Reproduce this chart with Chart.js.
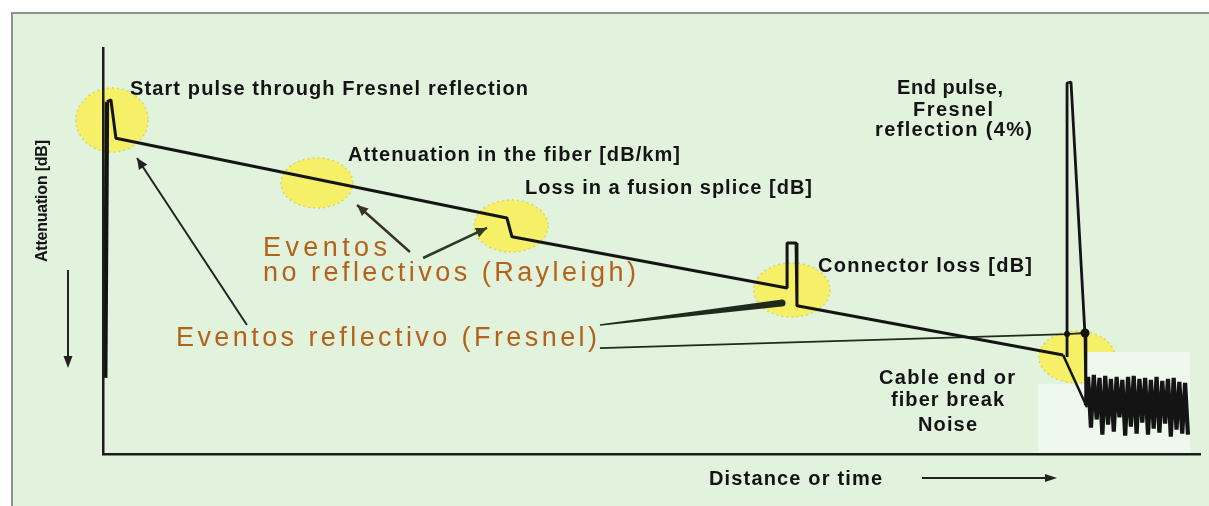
<!DOCTYPE html>
<html>
<head>
<meta charset="utf-8">
<script src="https://cdn.jsdelivr.net/npm/chart.js@4.4.1/dist/chart.umd.min.js"></script>
<style>
  html, body { margin: 0; padding: 0; background: #fff; overflow: hidden; }
  #wrap { width: 1209px; height: 506px; position: relative; }
</style>
</head>
<body>
<div id="wrap"><canvas id="otdr"></canvas></div>
<script>
// OTDR trace: distance (km) / level (dB)
const traceKm = [0.1, 0.18, 0.36, 0.59, 18.41, 18.64, 31.18, 31.18, 31.59, 31.63, 43.76];
const traceDb = [7.5, 34.7, 34.9, 31.1, 23.25, 21.4, 16.35, 20.8, 20.8, 14.6, 9.75];

// fall at the cable end
const cutKm = [43.76, 44.85];
const cutDb = [9.75, 4.6];

// end pulse (Fresnel 4%)
const endKm = [43.94, 43.94, 44.12, 44.76, 44.8];
const endDb = [9.55, 36.55, 36.65, 11.7, 4.8];

// noise after the break
const noiseKm = [44.9, 45.03, 45.16, 45.29, 45.42, 45.55, 45.68, 45.81, 45.94, 46.07, 46.2, 46.33,
  46.46, 46.59, 46.72, 46.85, 46.98, 47.11, 47.24, 47.37, 47.5, 47.63, 47.76, 47.89,
  48.02, 48.15, 48.28, 48.41, 48.54, 48.67, 48.8, 48.93, 49.06, 49.19, 49.32, 49.45];
const noiseDb = [7.6, 2.6, 7.8, 3.4, 7.5, 1.9, 7.7, 2.9, 7.4, 2.2, 7.6, 3.6,
  7.3, 1.8, 7.6, 2.7, 7.7, 2.0, 7.4, 3.1, 7.5, 1.9, 7.3, 2.5,
  7.6, 2.1, 7.2, 3.0, 7.4, 1.7, 7.5, 2.4, 7.1, 2.0, 7.0, 1.9];

// pointer from "Eventos reflectivo (Fresnel)" to the end pulse
const pointerKm = [22.65, 43.94, 44.76];
const pointerDb = [10.44, 11.82, 11.92];

const BG = '#e1f2dd';
const INK = '#141414';
const ORANGE = '#b4621a';
const FONT = '"Liberation Sans", Arial, sans-serif';

const pts = (xs, ys) => xs.map((v, i) => ({ x: v, y: ys[i] }));

// yellow event spots (centre in km/dB, radii in px)
const spots = [
  { km: 0.41, db: 32.9, rx: 36, ry: 32 },
  { km: 9.75, db: 26.7, rx: 36, ry: 25 },
  { km: 18.6, db: 22.46, rx: 37, ry: 26 },
  { km: 31.4, db: 16.16, rx: 38, ry: 27 },
  { km: 44.39, db: 9.56, rx: 38, ry: 26 }
];

// annotation arrows, km/dB
const arrows = [
  { from: [6.56, 12.71], to: [1.55, 29.16], color: '#222', w: 2 },
  { from: [13.99, 19.9], to: [11.58, 24.53], color: '#3a3222', w: 2.5 },
  { from: [14.59, 19.31], to: [17.5, 22.27], color: '#2f3a22', w: 2.5 }
];

const blackLabels = [
  ['Start pulse through Fresnel reflection', 130, 89, 398],
  ['Attenuation in the fiber [dB/km]', 348, 155, 332],
  ['Loss in a fusion splice [dB]', 525, 188, 287],
  ['Connector loss [dB]', 818, 266, 214],
  ['End pulse,', 897, 88, 106],
  ['Fresnel', 913, 110, 80],
  ['reflection (4%)', 875, 130, 157],
  ['Cable end or', 879, 378, 136],
  ['fiber break', 891, 400, 113],
  ['Noise', 918, 425, 59],
  ['Distance or time', 709, 479, 173]
];
const orangeLabels = [
  ['Eventos', 263, 249, 124],
  ['no reflectivos (Rayleigh)', 263, 274, 373],
  ['Eventos reflectivo (Fresnel)', 176, 339, 421]
];

function spaced(ctx, text, x, y, width) {
  const chars = [...text];
  const w = chars.reduce((s, c) => s + ctx.measureText(c).width, 0);
  const gap = chars.length > 1 ? (width - w) / (chars.length - 1) : 0;
  let cx = x;
  chars.forEach(c => { ctx.fillText(c, cx, y); cx += ctx.measureText(c).width + gap; });
}

function arrowHead(ctx, x1, y1, x2, y2, len, half) {
  const a = Math.atan2(y2 - y1, x2 - x1);
  ctx.beginPath();
  ctx.moveTo(x2, y2);
  ctx.lineTo(x2 - len * Math.cos(a) + half * Math.sin(a), y2 - len * Math.sin(a) - half * Math.cos(a));
  ctx.lineTo(x2 - len * Math.cos(a) - half * Math.sin(a), y2 - len * Math.sin(a) + half * Math.cos(a));
  ctx.closePath();
  ctx.fill();
}

const otdrDecor = {
  id: 'otdrDecor',
  beforeDraw(chart) {
    const { ctx, width, height, scales: { x, y } } = chart;
    ctx.save();
    ctx.fillStyle = '#fff';
    ctx.fillRect(0, 0, width, height);
    ctx.fillStyle = BG;
    ctx.fillRect(12, 13, width - 12, height - 13);
    ctx.strokeStyle = '#8d928b';
    ctx.lineWidth = 2;
    ctx.beginPath();
    ctx.moveTo(12, height); ctx.lineTo(12, 13); ctx.lineTo(width, 13);
    ctx.stroke();

    spots.forEach(s => {
      const cx = x.getPixelForValue(s.km), cy = y.getPixelForValue(s.db);
      ctx.beginPath();
      ctx.ellipse(cx, cy, s.rx, s.ry, 0, 0, Math.PI * 2);
      ctx.fillStyle = '#f6f068';
      ctx.fill();
      ctx.setLineDash([2, 3]);
      ctx.strokeStyle = '#dcd45c';
      ctx.lineWidth = 1.5;
      ctx.stroke();
      ctx.setLineDash([]);
    });

    // pasted, lighter patch under the noise
    ctx.fillStyle = '#eef8ec';
    ctx.fillRect(1087, 352, 103, 102);
    ctx.fillRect(1038, 384, 49, 70);
    ctx.restore();
  },
  afterDraw(chart) {
    const { ctx, scales: { x, y } } = chart;
    ctx.save();
    arrows.forEach(a => {
      const x1 = x.getPixelForValue(a.from[0]), y1 = y.getPixelForValue(a.from[1]);
      const x2 = x.getPixelForValue(a.to[0]), y2 = y.getPixelForValue(a.to[1]);
      ctx.strokeStyle = a.color; ctx.fillStyle = a.color; ctx.lineWidth = a.w;
      ctx.beginPath(); ctx.moveTo(x1, y1); ctx.lineTo(x2, y2); ctx.stroke();
      arrowHead(ctx, x1, y1, x2, y2, 11, 5);
    });

    // wedge pointer to the connector
    const wx1 = x.getPixelForValue(22.65), wy1 = y.getPixelForValue(12.71);
    const wx2 = x.getPixelForValue(30.95), wy2 = y.getPixelForValue(14.88);
    ctx.fillStyle = '#1e2a1c';
    ctx.beginPath();
    ctx.moveTo(wx1, wy1 - 0.8);
    ctx.lineTo(wx2, wy2 - 3.5);
    ctx.arc(wx2, wy2, 3.5, -Math.PI / 2, Math.PI / 2);
    ctx.lineTo(wx1, wy1 + 0.8);
    ctx.closePath();
    ctx.fill();

    // axis decorations
    ctx.strokeStyle = '#222'; ctx.fillStyle = '#222'; ctx.lineWidth = 2;
    ctx.beginPath(); ctx.moveTo(922, 478); ctx.lineTo(1050, 478); ctx.stroke();
    arrowHead(ctx, 922, 478, 1057, 478, 12, 4);
    ctx.beginPath(); ctx.moveTo(68, 270); ctx.lineTo(68, 360); ctx.stroke();
    arrowHead(ctx, 68, 270, 68, 368, 12, 4.5);

    ctx.textBaseline = 'middle';
    ctx.fillStyle = INK;
    ctx.font = 'bold 20px ' + FONT;
    blackLabels.forEach(([t, lx, ly, w]) => spaced(ctx, t, lx, ly, w));

    ctx.fillStyle = ORANGE;
    ctx.font = '27px ' + FONT;
    orangeLabels.forEach(([t, lx, ly, w]) => spaced(ctx, t, lx, ly, w));

    ctx.fillStyle = INK;
    ctx.font = 'bold 16px "Liberation Sans Narrow", ' + FONT;
    ctx.translate(43, 201);
    ctx.rotate(-Math.PI / 2);
    spaced(ctx, 'Attenuation [dB]', -61, 0, 122);
    ctx.restore();
  }
};

new Chart(document.getElementById('otdr'), {
  type: 'scatter',
  data: {
    datasets: [
      {
        data: pts(traceKm, traceDb), showLine: true, borderColor: INK, borderWidth: 3,
        pointRadius: 0, borderJoinStyle: 'bevel', clip: 8,
        segment: { borderWidth: c => c.p0DataIndex === 0 ? 4.5 : 3 }
      },
      { data: pts(cutKm, cutDb), showLine: true, borderColor: INK, borderWidth: 2.5, pointRadius: 0, clip: 8 },
      {
        data: pts(endKm.concat(noiseKm), endDb.concat(noiseDb)), showLine: true, borderColor: INK,
        borderWidth: 2.8, pointRadius: 0, borderJoinStyle: 'bevel', clip: 8,
        segment: { borderWidth: c => c.p0DataIndex >= endKm.length - 1 ? 4.2 : 2.8 }
      },
      {
        data: pts(pointerKm, pointerDb), showLine: true, borderColor: '#1e2a1c', borderWidth: 1.8,
        pointRadius: [0, 3, 4.5], pointBackgroundColor: '#111', pointBorderWidth: 0, clip: 8
      }
    ]
  },
  options: {
    responsive: true,
    maintainAspectRatio: false,
    animation: false,
    events: [],
    layout: { padding: { left: 103, right: 9, top: 48, bottom: 52 } },
    plugins: { legend: { display: false }, tooltip: { enabled: false } },
    scales: {
      x: {
        type: 'linear', min: 0, max: 50,
        ticks: { display: false },
        grid: { display: false, drawTicks: false },
        border: { display: true, color: '#1c1c1c', width: 2.5, z: 1 }
      },
      y: {
        type: 'linear', min: 0, max: 40,
        ticks: { display: false },
        grid: { display: false, drawTicks: false },
        border: { display: true, color: '#1c1c1c', width: 2.5, z: 1 }
      }
    }
  },
  plugins: [otdrDecor]
});
</script>
</body>
</html>
